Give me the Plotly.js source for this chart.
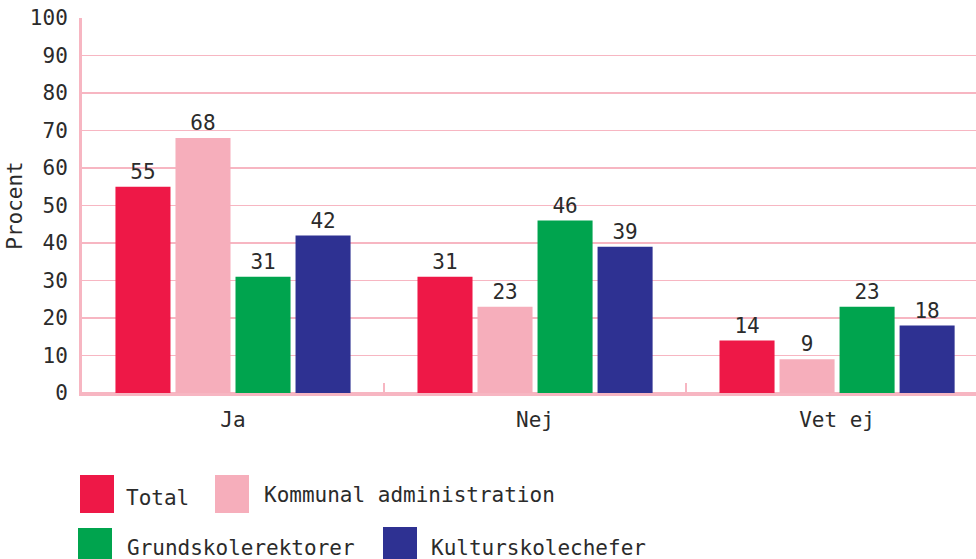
<!DOCTYPE html>
<html>
<head>
<meta charset="utf-8">
<script src="https://cdn.plot.ly/plotly-3.0.1.min.js"></script>
<style>html,body{margin:0;padding:0;background:#fff;overflow:hidden}</style>
</head>
<body>
<div id="chart" style="width:976px;height:559px"></div>
<script>
const categories = ["Ja", "Nej", "Vet ej"];
const seriesNames = ["Total", "Kommunal administration", "Grundskolerektorer", "Kulturskolechefer"];
const total = [55, 31, 14];
const kommunal = [68, 23, 9];
const grundskole = [31, 46, 23];
const kulturskole = [42, 39, 18];
const seriesValues = [total, kommunal, grundskole, kulturskole];
const colors = ["#EE1847", "#F6AEBB", "#00A44E", "#2E3192"];
const yTicks = [0, 10, 20, 30, 40, 50, 60, 70, 80, 90, 100];

const FONT = "DejaVu Sans Mono, Roboto Mono, monospace";
const FS = 21;
const TXT = "#2b2b2b";
const PINK = "#F7B6C2";

const traces = seriesNames.map((n, i) => ({
  type: "bar",
  name: n,
  x: categories,
  y: seriesValues[i],
  marker: {color: colors[i]},
  text: seriesValues[i].map(String),
  textposition: "outside",
  cliponaxis: false,
  textfont: {family: FONT, size: FS, color: TXT},
  hoverinfo: "x+y+name"
}));

// plot area in pixels
const L = 82, R = 976, T = 18, B = 393;
const px = x => (x - L) / (R - L);
const py = y => (B - y) / (B - T);

// custom legend layout (pixel positions)
const legendPos = [
  {sx: 80, sy: 475, tx: 124, ty: 498},
  {sx: 215, sy: 475, tx: 262, ty: 495},
  {sx: 78, sy: 528, tx: 125, ty: 548},
  {sx: 383, sy: 527, tx: 429, ty: 548}
];
const shapes = [], annotations = [];
seriesNames.forEach((n, i) => {
  const p = legendPos[i];
  shapes.push({type: "rect", xref: "paper", yref: "paper",
    x0: px(p.sx), x1: px(p.sx + 34), y0: py(p.sy), y1: py(p.sy + 38),
    fillcolor: colors[i], line: {width: 0}});
  annotations.push({xref: "paper", yref: "paper", x: px(p.tx), y: py(p.ty),
    xanchor: "left", yanchor: "middle", showarrow: false, text: n,
    font: {family: FONT, size: FS, color: TXT}});
});

const layout = {
  width: 976, height: 559,
  margin: {l: L, r: 0, t: T, b: 559 - B, pad: 0},
  paper_bgcolor: "#fff", plot_bgcolor: "#fff",
  showlegend: false,
  barmode: "group",
  bargap: 0.205,
  bargroupgap: 0.083,
  font: {family: FONT, size: FS, color: TXT},
  xaxis: {
    type: "category",
    range: [-0.5, 2.46],
    tickson: "boundaries",
    ticks: "inside", ticklen: 10, tickwidth: 1.5, tickcolor: PINK,
    showline: true, linecolor: PINK, linewidth: 3,
    showgrid: false, zeroline: false,
    ticklabelstandoff: 6,
    tickfont: {family: FONT, size: FS, color: TXT},
    fixedrange: true
  },
  yaxis: {
    range: [0, 100],
    tickvals: yTicks,
    ticktext: yTicks.map(String),
    showgrid: true, gridcolor: PINK, gridwidth: 1.5,
    zeroline: true, zerolinecolor: PINK, zerolinewidth: 3,
    showline: true, linecolor: PINK, linewidth: 3,
    ticks: "", ticklabelstandoff: 7,
    tickfont: {family: FONT, size: FS, color: TXT},
    title: {text: "Procent", font: {family: FONT, size: FS, color: TXT}, standoff: 2},
    fixedrange: true
  },
  shapes: shapes,
  annotations: annotations
};

Plotly.newPlot("chart", traces, layout, {displayModeBar: false, staticPlot: true});
</script>
</body>
</html>
